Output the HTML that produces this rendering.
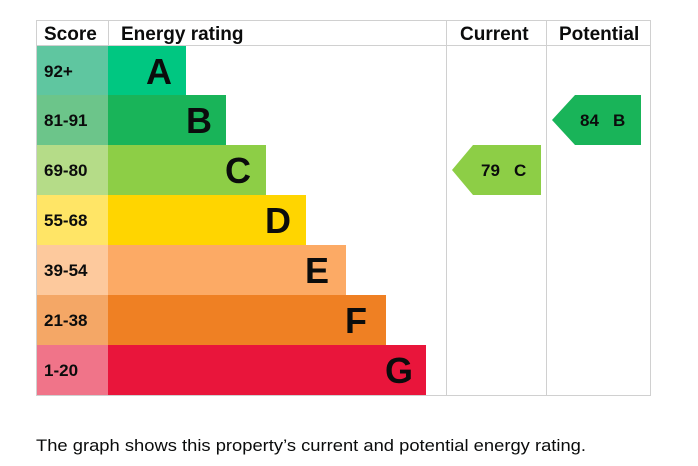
<!DOCTYPE html><html><head><style>body{margin:0;background:#fff;width:698px;height:461px;overflow:hidden}</style></head><body>
<svg width="698" height="461" xmlns="http://www.w3.org/2000/svg" font-family="Liberation Sans, Arial, sans-serif">
<g stroke="#d0d0d0" stroke-width="1" fill="none">
<line x1="36" y1="20.5" x2="651" y2="20.5"/>
<line x1="36" y1="45.5" x2="651" y2="45.5"/>
<line x1="36" y1="395.5" x2="651" y2="395.5"/>
<line x1="36.5" y1="20" x2="36.5" y2="396"/>
<line x1="108.5" y1="20" x2="108.5" y2="45"/>
<line x1="446.5" y1="20" x2="446.5" y2="396"/>
<line x1="546.5" y1="20" x2="546.5" y2="396"/>
<line x1="650.5" y1="20" x2="650.5" y2="396"/>
</g>
<g font-weight="bold" font-size="19" fill="#0b0c0c">
<text x="44" y="40">Score</text>
<text x="121" y="40">Energy rating</text>
<text x="460" y="40">Current</text>
<text x="559" y="40">Potential</text>
</g>
<g>
<rect x="37" y="46" width="71" height="49" fill="#5fc6a0"/><rect x="108" y="46" width="78" height="49" fill="#00c781"/>
<rect x="37" y="95" width="71" height="50" fill="#6cc58a"/><rect x="108" y="95" width="118" height="50" fill="#19b459"/>
<rect x="37" y="145" width="71" height="50" fill="#b5dc88"/><rect x="108" y="145" width="158" height="50" fill="#8dce46"/>
<rect x="37" y="195" width="71" height="50" fill="#ffe566"/><rect x="108" y="195" width="198" height="50" fill="#ffd500"/>
<rect x="37" y="245" width="71" height="50" fill="#fdc99d"/><rect x="108" y="245" width="238" height="50" fill="#fcaa65"/>
<rect x="37" y="295" width="71" height="50" fill="#f4a766"/><rect x="108" y="295" width="278" height="50" fill="#ef8023"/>
<rect x="37" y="345" width="71" height="50" fill="#f07489"/><rect x="108" y="345" width="318" height="50" fill="#e9153b"/>
</g>
<g font-weight="bold" font-size="17" fill="#0b0c0c">
<text x="44" y="77">92+</text><text x="44" y="126">81-91</text><text x="44" y="176">69-80</text>
<text x="44" y="226">55-68</text><text x="44" y="276">39-54</text><text x="44" y="326">21-38</text><text x="44" y="376">1-20</text>
</g>
<g font-weight="bold" font-size="36" fill="#0b0c0c" text-anchor="end">
<text x="172" y="84">A</text><text x="212" y="133">B</text><text x="251" y="183">C</text>
<text x="291" y="233">D</text><text x="329" y="283">E</text><text x="367" y="333">F</text><text x="413" y="383">G</text>
</g>
<polygon points="452,170 473,145 541,145 541,195 473,195" fill="#8dce46"/>
<text x="481" y="176" font-weight="bold" font-size="17" fill="#0b0c0c">79</text>
<text x="514" y="176" font-weight="bold" font-size="17" fill="#0b0c0c">C</text>
<polygon points="552,120 575,95 641,95 641,145 575,145" fill="#19b459"/>
<text x="580" y="126" font-weight="bold" font-size="17" fill="#0b0c0c">84</text>
<text x="613" y="126" font-weight="bold" font-size="17" fill="#0b0c0c">B</text>
<text x="36" y="451" font-size="17" fill="#0b0c0c" textLength="550" lengthAdjust="spacingAndGlyphs">The graph shows this property’s current and potential energy rating.</text>
</svg>
</body></html>
